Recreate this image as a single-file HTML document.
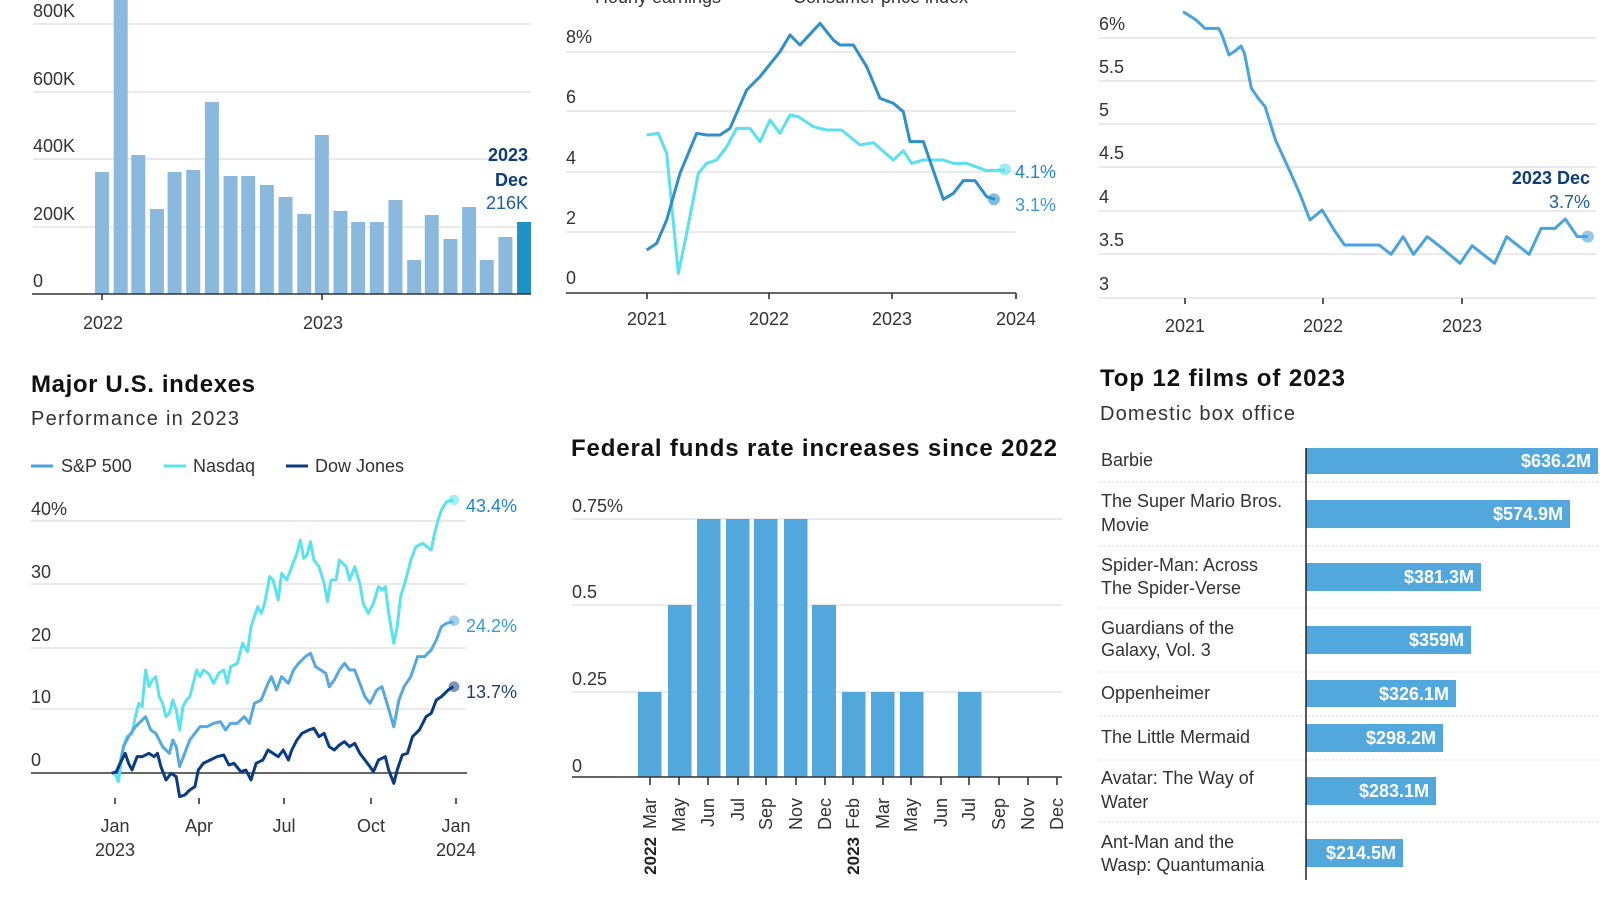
<!DOCTYPE html>
<html><head><meta charset="utf-8"><style>
html,body{margin:0;padding:0;background:#fff;}
svg{display:block;font-family:"Liberation Sans",sans-serif;}
.t{font-size:18px;fill:#333;}
.g{stroke:#dedede;stroke-width:1.2;}
.ax{stroke:#333;stroke-width:1.6;}
.ttl{font-size:24px;font-weight:bold;fill:#111;}
.sub{font-size:20px;fill:#333;}
.v{font-size:18px;font-weight:bold;fill:#fff;}
</style></head><body>
<svg width="1600" height="900" viewBox="0 0 1600 900">
<!-- Chart 1 -->
<g>
<line class="g" x1="33" y1="24" x2="531" y2="24"/>
<line class="g" x1="33" y1="92" x2="531" y2="92"/>
<line class="g" x1="33" y1="159" x2="531" y2="159"/>
<line class="g" x1="33" y1="227" x2="531" y2="227"/>
<text class="t" x="33" y="17">800K</text>
<text class="t" x="33" y="85">600K</text>
<text class="t" x="33" y="152">400K</text>
<text class="t" x="33" y="220">200K</text>
<text class="t" x="33" y="287">0</text>
<g transform="translate(95,0) scale(1.037,1) translate(-93,0)">
<g fill="#8ab9dd">
<rect x="93" y="172" width="13.5" height="122"/>
<rect x="111" y="0" width="13.5" height="294"/>
<rect x="128" y="155" width="13.5" height="139"/>
<rect x="146" y="209" width="13.5" height="85"/>
<rect x="163" y="172" width="13.5" height="122"/>
<rect x="181" y="170" width="13.5" height="124"/>
<rect x="199" y="102" width="13.5" height="192"/>
<rect x="217" y="176" width="13.5" height="118"/>
<rect x="234" y="176" width="13.5" height="118"/>
<rect x="252" y="185" width="13.5" height="109"/>
<rect x="270" y="197" width="13.5" height="97"/>
<rect x="288" y="214" width="13.5" height="80"/>
<rect x="305" y="135" width="13.5" height="159"/>
<rect x="323" y="211" width="13.5" height="83"/>
<rect x="340" y="222" width="13.5" height="72"/>
<rect x="358" y="222" width="13.5" height="72"/>
<rect x="376" y="200" width="13.5" height="94"/>
<rect x="394" y="260" width="13.5" height="34"/>
<rect x="411" y="215" width="13.5" height="79"/>
<rect x="429" y="239" width="13.5" height="55"/>
<rect x="447" y="207" width="13.5" height="87"/>
<rect x="464" y="260" width="13.5" height="34"/>
<rect x="482" y="237" width="13.5" height="57"/>
</g>
<rect x="500" y="222" width="13.5" height="72" fill="#2090c8"/>
</g>
<line class="ax" x1="32" y1="294" x2="531" y2="294"/>
<line class="ax" x1="102" y1="294" x2="102" y2="300"/>
<line class="ax" x1="322" y1="294" x2="322" y2="300"/>
<text class="t" x="103" y="329" text-anchor="middle">2022</text>
<text class="t" x="323" y="329" text-anchor="middle">2023</text>
<text x="528" y="161" text-anchor="end" font-size="18" font-weight="bold" fill="#0d3c7a">2023</text>
<text x="528" y="186" text-anchor="end" font-size="18" font-weight="bold" fill="#0d3c7a">Dec</text>
<text x="528" y="209" text-anchor="end" font-size="18" fill="#1e5fa0">216K</text>
</g>

<!-- Chart 2 -->
<g>
<text class="t" x="595" y="3" fill="#555">Hourly earnings</text>
<text class="t" x="793" y="3" fill="#555">Consumer price index</text>
<line class="g" x1="566" y1="52" x2="1016" y2="52"/>
<line class="g" x1="566" y1="111" x2="1016" y2="111"/>
<line class="g" x1="566" y1="172" x2="1016" y2="172"/>
<line class="g" x1="566" y1="232" x2="1016" y2="232"/>
<text class="t" x="566" y="43">8%</text>
<text class="t" x="566" y="103">6</text>
<text class="t" x="566" y="164">4</text>
<text class="t" x="566" y="224">2</text>
<text class="t" x="566" y="284">0</text>
<line class="ax" x1="566" y1="293" x2="1016" y2="293"/>
<g class="ax"><line x1="647" y1="293" x2="647" y2="299"/><line x1="769" y1="293" x2="769" y2="299"/><line x1="892" y1="293" x2="892" y2="299"/><line x1="1016" y1="293" x2="1016" y2="299"/></g>
<text class="t" x="647" y="325" text-anchor="middle">2021</text>
<text class="t" x="769" y="325" text-anchor="middle">2022</text>
<text class="t" x="892" y="325" text-anchor="middle">2023</text>
<text class="t" x="1016" y="325" text-anchor="middle">2024</text>
<g transform="translate(540,0) scale(0.33333)" fill="none" stroke-linejoin="round">
<polyline vector-effect="non-scaling-stroke" stroke="#5ae0ee" stroke-width="3" points="320,405 355,400 380,460 415,820 440,700 475,520 500,490 530,480 560,440 590,385 630,385 660,425 690,360 720,400 750,345 775,350 820,380 860,390 905,390 960,435 1000,428 1060,480 1090,452 1115,490 1150,480 1210,480 1240,490 1280,490 1340,512 1395,510"/>
<polyline vector-effect="non-scaling-stroke" stroke="#2f8fcc" stroke-width="3" points="320,750 350,730 380,660 420,520 470,400 500,405 540,405 570,385 620,270 660,230 720,155 750,105 780,135 840,70 880,120 900,135 940,135 980,200 1020,295 1060,310 1090,335 1110,425 1150,425 1210,598 1240,580 1270,542 1305,542 1340,590 1365,598"/>
<circle cx="1395" cy="508" r="18" fill="#5ae0ee" fill-opacity="0.6"/>
<circle cx="1362" cy="598" r="18" fill="#2f8fcc" fill-opacity="0.6"/>
</g>
<text x="1015" y="178" font-size="18" fill="#1e86c6">4.1%</text>
<text x="1015" y="211" font-size="18" fill="#3a9ad8">3.1%</text>
</g>

<!-- Chart 3 -->
<g>
<line class="g" x1="1099" y1="38" x2="1596" y2="38"/>
<line class="g" x1="1099" y1="81" x2="1596" y2="81"/>
<line class="g" x1="1099" y1="124" x2="1596" y2="124"/>
<line class="g" x1="1099" y1="167" x2="1596" y2="167"/>
<line class="g" x1="1099" y1="211" x2="1596" y2="211"/>
<line class="g" x1="1099" y1="254" x2="1596" y2="254"/>
<line class="g" x1="1099" y1="298" x2="1596" y2="298"/>
<text class="t" x="1099" y="30">6%</text>
<text class="t" x="1099" y="73">5.5</text>
<text class="t" x="1099" y="116">5</text>
<text class="t" x="1099" y="159">4.5</text>
<text class="t" x="1099" y="203">4</text>
<text class="t" x="1099" y="246">3.5</text>
<text class="t" x="1099" y="290">3</text>
<g class="ax"><line x1="1185" y1="298" x2="1185" y2="304"/><line x1="1323" y1="298" x2="1323" y2="304"/><line x1="1462" y1="298" x2="1462" y2="304"/></g>
<text class="t" x="1185" y="332" text-anchor="middle">2021</text>
<text class="t" x="1323" y="332" text-anchor="middle">2022</text>
<text class="t" x="1462" y="332" text-anchor="middle">2023</text>
<g transform="translate(1061.6,0) scale(0.345,0.33333)" fill="none" stroke-linejoin="round">
<polyline vector-effect="non-scaling-stroke" stroke="#4aa3dd" stroke-width="3" points="352,35 390,60 415,85 455,85 465,105 485,165 500,155 520,138 530,160 550,265 570,295 590,320 620,420 660,510 690,580 720,660 755,630 790,690 820,735 920,735 955,763 990,710 1020,763 1060,710 1100,742 1155,790 1190,737 1220,762 1255,790 1290,710 1355,763 1390,685 1430,685 1460,657 1495,710 1525,710"/>
<circle cx="1525" cy="710" r="18" fill="#4aa3dd" fill-opacity="0.6"/>
</g>
<text x="1590" y="184" text-anchor="end" font-size="18" font-weight="bold" fill="#0d3c7a">2023 Dec</text>
<text x="1590" y="208" text-anchor="end" font-size="18" fill="#1e5fa0">3.7%</text>
</g>

<!-- Chart 4 -->
<g>
<text class="ttl" x="31" y="392" textLength="224">Major U.S. indexes</text>
<text class="sub" x="31" y="425" textLength="208">Performance in 2023</text>
<line x1="31" y1="466" x2="53" y2="466" stroke="#4aa3dd" stroke-width="3"/>
<text class="t" x="61" y="472">S&amp;P 500</text>
<line x1="164" y1="466" x2="186" y2="466" stroke="#5ae0ee" stroke-width="3"/>
<text class="t" x="193" y="472">Nasdaq</text>
<line x1="286" y1="466" x2="308" y2="466" stroke="#0b3b80" stroke-width="3"/>
<text class="t" x="315" y="472">Dow Jones</text>
<line class="g" x1="31" y1="521" x2="466" y2="521"/>
<line class="g" x1="31" y1="584" x2="466" y2="584"/>
<line class="g" x1="31" y1="648" x2="466" y2="648"/>
<line class="g" x1="31" y1="709" x2="466" y2="709"/>
<text class="t" x="31" y="515">40%</text>
<text class="t" x="31" y="578">30</text>
<text class="t" x="31" y="641">20</text>
<text class="t" x="31" y="703">10</text>
<text class="t" x="31" y="766">0</text>
<line class="ax" x1="31" y1="773" x2="467" y2="773"/>
<g class="ax"><line x1="115" y1="798" x2="115" y2="804"/><line x1="199" y1="798" x2="199" y2="804"/><line x1="284" y1="798" x2="284" y2="804"/><line x1="371" y1="798" x2="371" y2="804"/><line x1="456" y1="798" x2="456" y2="804"/></g>
<text class="t" x="115" y="832" text-anchor="middle">Jan</text>
<text class="t" x="115" y="856" text-anchor="middle">2023</text>
<text class="t" x="199" y="832" text-anchor="middle">Apr</text>
<text class="t" x="284" y="832" text-anchor="middle">Jul</text>
<text class="t" x="371" y="832" text-anchor="middle">Oct</text>
<text class="t" x="456" y="832" text-anchor="middle">Jan</text>
<text class="t" x="456" y="856" text-anchor="middle">2024</text>
<g transform="translate(-0.6,470) scale(0.34,0.33333)" fill="none" stroke-linejoin="round">
<polyline vector-effect="non-scaling-stroke" stroke="#5ae3ef" stroke-width="3" points="340,910 350,935 365,830 375,800 390,790 400,740 410,700 420,710 430,600 440,650 450,630 460,620 470,680 480,700 490,740 500,730 510,690 520,720 530,780 540,710 550,690 560,680 570,640 580,600 590,620 600,600 615,610 630,640 645,610 660,600 670,640 680,590 700,580 715,520 730,545 740,470 760,410 770,430 780,400 795,320 805,330 820,390 830,310 845,330 860,290 875,250 885,210 895,265 905,255 915,215 925,270 940,290 955,340 965,395 975,330 990,330 1000,270 1020,290 1030,330 1045,290 1060,340 1070,400 1085,430 1100,400 1115,350 1125,360 1135,350 1145,430 1160,520 1170,470 1180,380 1195,330 1210,270 1225,230 1245,220 1270,240 1280,190 1290,150 1300,120 1315,95 1335,90"/>
<polyline vector-effect="non-scaling-stroke" stroke="#56a8e0" stroke-width="3" points="340,910 355,880 365,830 380,800 400,770 420,750 430,740 445,780 460,790 480,830 500,850 510,810 520,830 530,890 545,850 560,810 575,790 590,770 610,770 630,760 650,755 665,780 680,760 700,760 720,740 735,760 750,700 770,690 790,640 800,620 815,660 830,620 850,640 865,600 880,580 900,560 915,550 930,590 945,600 960,610 970,650 985,630 1000,600 1015,580 1030,600 1045,600 1060,640 1075,680 1090,700 1110,660 1125,650 1140,700 1160,770 1175,690 1190,650 1210,620 1230,560 1250,560 1270,540 1285,510 1300,470 1315,460 1335,455"/>
<polyline vector-effect="non-scaling-stroke" stroke="#0b3b80" stroke-width="3" points="330,910 345,905 355,880 370,850 380,880 390,900 405,860 420,860 440,850 455,860 465,850 475,890 490,930 505,910 520,920 530,980 545,975 560,960 575,950 585,900 600,880 620,870 640,860 660,855 675,885 690,880 710,905 725,900 740,930 755,880 775,870 790,840 805,850 820,860 835,840 850,870 860,840 875,810 890,790 910,780 925,775 940,800 955,790 970,830 985,840 1000,825 1015,815 1030,830 1045,820 1060,850 1075,870 1090,890 1100,905 1115,870 1125,865 1135,860 1145,900 1160,940 1170,900 1185,855 1200,850 1215,800 1235,780 1255,740 1270,730 1285,690 1300,680 1320,660 1335,650"/>
<circle cx="1337" cy="90" r="16" fill="#5ae3ef" fill-opacity="0.55"/>
<circle cx="1337" cy="452" r="16" fill="#56a8e0" fill-opacity="0.55"/>
<circle cx="1337" cy="650" r="16" fill="#0b3b80" fill-opacity="0.55"/>
</g>
<text x="466" y="512" font-size="18" fill="#1e86c6">43.4%</text>
<text x="466" y="632" font-size="18" fill="#3a9ad8">24.2%</text>
<text x="466" y="698" font-size="18" fill="#1d3f6e">13.7%</text>
</g>

<!-- Chart 5 -->
<g>
<text class="ttl" x="571" y="456" textLength="486">Federal funds rate increases since 2022</text>
<line class="g" x1="572" y1="519" x2="1062" y2="519"/>
<line class="g" x1="572" y1="605" x2="1062" y2="605"/>
<line class="g" x1="572" y1="692" x2="1062" y2="692"/>
<text class="t" x="572" y="512">0.75%</text>
<text class="t" x="572" y="598">0.5</text>
<text class="t" x="572" y="685">0.25</text>
<text class="t" x="572" y="772">0</text>
<g fill="#52a7dc">
<rect x="638" y="692" width="23.5" height="85"/>
<rect x="668" y="605" width="23.5" height="172"/>
<rect x="697" y="519" width="23.5" height="258"/>
<rect x="726" y="519" width="23.5" height="258"/>
<rect x="754" y="519" width="23.5" height="258"/>
<rect x="784" y="519" width="23.5" height="258"/>
<rect x="812" y="605" width="24" height="172"/>
<rect x="842" y="692" width="23.5" height="85"/>
<rect x="871" y="692" width="23.5" height="85"/>
<rect x="900" y="692" width="23.5" height="85"/>
<rect x="958" y="692" width="23.5" height="85"/>
</g>
<line class="ax" x1="572" y1="777" x2="1062" y2="777"/>
<g class="ax">
<line x1="650" y1="777" x2="650" y2="785"/><line x1="679" y1="777" x2="679" y2="785"/><line x1="708" y1="777" x2="708" y2="785"/><line x1="738" y1="777" x2="738" y2="785"/><line x1="766" y1="777" x2="766" y2="785"/><line x1="796" y1="777" x2="796" y2="785"/><line x1="825" y1="777" x2="825" y2="785"/><line x1="853" y1="777" x2="853" y2="785"/><line x1="883" y1="777" x2="883" y2="785"/><line x1="911" y1="777" x2="911" y2="785"/><line x1="941" y1="777" x2="941" y2="785"/><line x1="969" y1="777" x2="969" y2="785"/><line x1="999" y1="777" x2="999" y2="785"/><line x1="1028" y1="777" x2="1028" y2="785"/><line x1="1057" y1="777" x2="1057" y2="785"/>
</g>
<g class="t" text-anchor="end" font-size="17">
<text transform="translate(656,798) rotate(-90)">Mar</text>
<text transform="translate(685,798) rotate(-90)">May</text>
<text transform="translate(714,798) rotate(-90)">Jun</text>
<text transform="translate(744,798) rotate(-90)">Jul</text>
<text transform="translate(772,798) rotate(-90)">Sep</text>
<text transform="translate(802,798) rotate(-90)">Nov</text>
<text transform="translate(831,798) rotate(-90)">Dec</text>
<text transform="translate(859,798) rotate(-90)">Feb</text>
<text transform="translate(889,798) rotate(-90)">Mar</text>
<text transform="translate(917,798) rotate(-90)">May</text>
<text transform="translate(947,798) rotate(-90)">Jun</text>
<text transform="translate(975,798) rotate(-90)">Jul</text>
<text transform="translate(1005,798) rotate(-90)">Sep</text>
<text transform="translate(1034,798) rotate(-90)">Nov</text>
<text transform="translate(1063,798) rotate(-90)">Dec</text>
</g>
<text transform="translate(656,837) rotate(-90)" text-anchor="end" font-size="17" font-weight="bold" fill="#222">2022</text>
<text transform="translate(859,837) rotate(-90)" text-anchor="end" font-size="17" font-weight="bold" fill="#222">2023</text>
</g>

<!-- Chart 6 -->
<g>
<text class="ttl" x="1100" y="386" textLength="245">Top 12 films of 2023</text>
<text class="sub" x="1100" y="420" textLength="195">Domestic box office</text>
<g stroke="#d8d8d8" stroke-width="1" stroke-dasharray="2,2">
<line x1="1100" y1="482" x2="1598" y2="482"/><line x1="1100" y1="546" x2="1598" y2="546"/><line x1="1100" y1="608" x2="1598" y2="608"/><line x1="1100" y1="672" x2="1598" y2="672"/><line x1="1100" y1="716" x2="1598" y2="716"/><line x1="1100" y1="760" x2="1598" y2="760"/><line x1="1100" y1="822" x2="1598" y2="822"/>
</g>
<g fill="#52a7dc">
<rect x="1306" y="448" width="292" height="26"/>
<rect x="1306" y="500" width="264" height="28"/>
<rect x="1306" y="563" width="175" height="28"/>
<rect x="1306" y="626" width="165" height="28"/>
<rect x="1306" y="680" width="150" height="27"/>
<rect x="1306" y="724" width="137" height="28"/>
<rect x="1306" y="777" width="130" height="28"/>
<rect x="1306" y="839" width="97" height="28"/>
</g>
<line x1="1306" y1="448" x2="1306" y2="880" stroke="#222" stroke-width="1.5"/>
<g class="v" text-anchor="end">
<text x="1591" y="467">$636.2M</text>
<text x="1563" y="520">$574.9M</text>
<text x="1474" y="583">$381.3M</text>
<text x="1464" y="646">$359M</text>
<text x="1449" y="700">$326.1M</text>
<text x="1436" y="744">$298.2M</text>
<text x="1429" y="797">$283.1M</text>
<text x="1396" y="859">$214.5M</text>
</g>
<g class="t">
<text x="1101" y="466">Barbie</text>
<text x="1101" y="507">The Super Mario Bros.</text>
<text x="1101" y="531">Movie</text>
<text x="1101" y="571">Spider-Man: Across</text>
<text x="1101" y="594">The Spider-Verse</text>
<text x="1101" y="634">Guardians of the</text>
<text x="1101" y="656">Galaxy, Vol. 3</text>
<text x="1101" y="699">Oppenheimer</text>
<text x="1101" y="743">The Little Mermaid</text>
<text x="1101" y="784">Avatar: The Way of</text>
<text x="1101" y="808">Water</text>
<text x="1101" y="848">Ant-Man and the</text>
<text x="1101" y="871">Wasp: Quantumania</text>
</g>
</g>
</svg>
</body></html>
